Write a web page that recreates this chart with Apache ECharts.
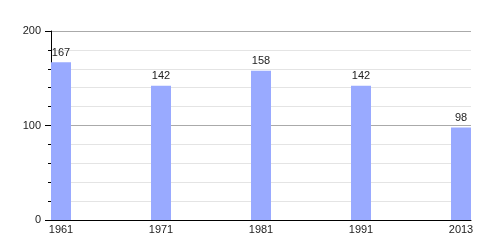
<!DOCTYPE html>
<html>
<head>
<meta charset="utf-8">
<script src="https://cdn.jsdelivr.net/npm/echarts@6/dist/echarts.min.js"></script>
<style>html,body{margin:0;padding:0;background:#fff;}#c{width:500px;height:250px;}</style>
</head>
<body>
<div id="c"></div>
<script>
const categories = ['1961', '1971', '1981', '1991', '2013'];
const values = [167, 142, 158, 142, 98];
const yTicks = [0, 100, 200];

const chart = echarts.init(document.getElementById('c'), null, {renderer: 'canvas'});
const font = 'Liberation Sans, Arial, sans-serif';
chart.setOption({
  animation: false,
  grid: {left: 51, right: 29, top: 31, bottom: 30, containLabel: false},
  xAxis: {
    type: 'value',
    min: -0.1,
    max: 4.1,
    splitLine: {show: false},
    axisLine: {show: true, onZero: false, lineStyle: {color: '#000', width: 1}},
    axisTick: {show: false},
    axisLabel: {
      customValues: categories.map((c, i) => i),
      formatter: v => categories[Math.round(v)] || '',
      color: '#222', fontFamily: font, fontSize: 11, margin: 4
    }
  },
  yAxis: {
    type: 'value',
    min: yTicks[0],
    max: yTicks[yTicks.length - 1],
    interval: 100,
    axisLine: {show: true, onZero: false, lineStyle: {color: '#000', width: 1}},
    axisTick: {show: true, length: 6, lineStyle: {color: '#000'}},
    minorTick: {show: true, splitNumber: 5, length: 3, lineStyle: {color: '#000'}},
    splitLine: {show: true, lineStyle: {color: '#aaa', width: 1}},
    minorSplitLine: {show: true, lineStyle: {color: '#e4e4e4', width: 1}},
    axisLabel: {color: '#222', fontFamily: font, fontSize: 11, margin: 10}
  },
  series: [{
    type: 'bar',
    data: values.map((v, i) => [i, v]),
    barWidth: 20,
    itemStyle: {color: '#99aaff'},
    label: {show: true, position: 'top', distance: 4, color: '#222', fontFamily: font, fontSize: 11}
  }]
});
</script>
</body>
</html>
